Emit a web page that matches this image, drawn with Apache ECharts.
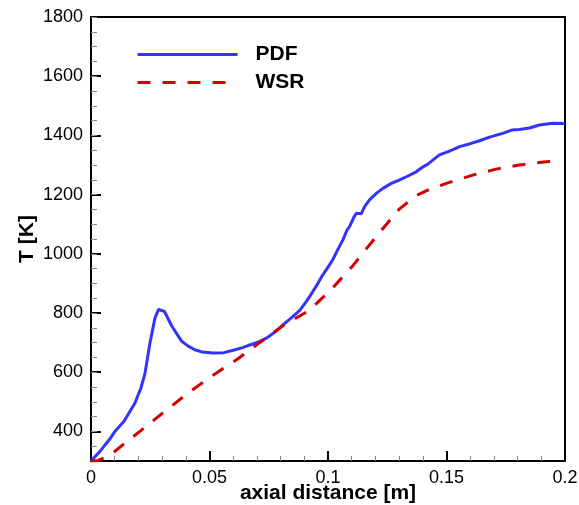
<!DOCTYPE html>
<html>
<head>
<meta charset="utf-8">
<script src="https://cdn.jsdelivr.net/npm/echarts@6/dist/echarts.min.js"></script>
<style>
  html, body { margin: 0; padding: 0; background: #fff; }
  #root { width: 579px; height: 505px; }
</style>
</head>
<body>
<div id="root"></div>
<script>
// axial distance [m] and temperature [K]
const pdfX = [0, 0.004, 0.008, 0.0101, 0.014, 0.0185, 0.021, 0.0228, 0.0249, 0.027, 0.0285, 0.029, 0.031, 0.034,
  0.0382, 0.041, 0.0438, 0.047, 0.0515, 0.056, 0.06, 0.064, 0.067, 0.071, 0.074, 0.078, 0.081, 0.085, 0.088,
  0.0905, 0.0923, 0.0958, 0.0975, 0.1, 0.102, 0.1045, 0.1063, 0.108, 0.1091, 0.111, 0.112, 0.114, 0.1155,
  0.1175, 0.1205, 0.1232, 0.1265, 0.13, 0.1335, 0.1372, 0.14, 0.1421, 0.147, 0.151, 0.1555, 0.16, 0.1639,
  0.1685, 0.1737, 0.1775, 0.1807, 0.185, 0.1892, 0.1948, 0.2];
const pdfT = [300, 335, 375, 400, 435, 495, 545, 597, 700, 783, 812, 818, 805, 757,
  705, 688, 676, 668, 665, 666, 674, 683, 692, 703, 715, 738, 760, 787, 808,
  835, 856, 901, 925, 955, 980, 1020, 1047, 1080, 1092, 1125, 1137, 1135, 1160,
  1182, 1205, 1221, 1237, 1249, 1262, 1277, 1293, 1303, 1334, 1346, 1362, 1372, 1382,
  1395, 1407, 1418, 1420, 1425, 1435, 1441, 1440];

const wsrX = [0, 0.003, 0.006, 0.0101, 0.013, 0.0206, 0.0312, 0.041, 0.0515, 0.0614, 0.0712, 0.081, 0.0923,
  0.102, 0.1105, 0.1175, 0.1239, 0.1302, 0.1372, 0.1421, 0.1499, 0.1611, 0.1709, 0.1807, 0.192, 0.197];
const wsrT = [300, 302, 312, 333, 352, 400, 468, 530, 590, 642, 700, 757, 810,
  885, 960, 1030, 1092, 1152, 1197, 1215, 1238, 1266, 1286, 1300, 1311, 1313];

const xTicks = ['0', '0.05', '0.1', '0.15', '0.2'];
const yTicks = [400, 600, 800, 1000, 1200, 1400, 1600, 1800];

const font = 'Liberation Sans, Arial, Helvetica, sans-serif';

const chart = echarts.init(document.getElementById('root'));
chart.setOption({
  animation: false,
  backgroundColor: '#fff',
  grid: {
    left: 91, right: 14, top: 17, bottom: 44,
    outerBoundsMode: 'none',
    containLabel: false,
    show: true, borderColor: '#000', borderWidth: 2, backgroundColor: 'transparent'
  },
  legend: {
    orient: 'vertical',
    left: 131,
    top: 39,
    itemWidth: 100,
    itemHeight: 14,
    itemGap: 7,
    itemStyle: { opacity: 0 },
    lineStyle: { width: 3 },
    textStyle: { fontFamily: font, fontSize: 21, fontWeight: 'bold', color: '#000', padding: [0, 0, 0, 13] },
    data: ['PDF', 'WSR']
  },
  xAxis: {
    type: 'value',
    min: 0, max: 0.2, interval: 0.05,
    name: 'axial distance [m]',
    nameLocation: 'middle',
    nameGap: 22,
    nameMoveOverlap: false,
    nameTextStyle: { fontFamily: font, fontSize: 21, fontWeight: 'bold', color: '#000' },
    axisLine: { show: true, lineStyle: { color: '#000', width: 2 } },
    axisTick: { show: true, inside: true, length: 10, lineStyle: { color: '#000', width: 2 } },
    minorTick: { show: true, splitNumber: 5, length: 5, lineStyle: { color: '#888', width: 1 } },
    axisLabel: {
      margin: 8, fontFamily: font, fontSize: 18, color: '#000',
      formatter: (v) => xTicks[Math.round(v / 0.05)]
    },
    splitLine: { show: false },
    minorSplitLine: { show: false }
  },
  yAxis: [
    {
      type: 'value',
      min: 300, max: 1800, splitNumber: 7,
      name: 'T [K]',
      nameLocation: 'middle',
      nameGap: 53,
      nameMoveOverlap: false,
      nameTextStyle: { fontFamily: font, fontSize: 21, fontWeight: 'bold', color: '#000' },
      axisLine: { show: true, lineStyle: { color: '#000', width: 2 } },
      axisTick: { show: true, inside: true, length: 10, lineStyle: { color: '#000', width: 2 } },
      axisLabel: {
        margin: 8, fontFamily: font, fontSize: 18, color: '#000',
        formatter: (v) => (yTicks.indexOf(v) >= 0 ? String(v) : '')
      },
      splitLine: { show: false }
    },
    {
      // short grey ticks every 50 K
      type: 'value',
      position: 'left',
      min: 300, max: 1800, interval: 50,
      axisLine: { show: false },
      axisTick: { show: true, inside: true, length: 6, lineStyle: { color: '#888', width: 1 } },
      axisLabel: { show: false },
      splitLine: { show: false }
    }
  ],
  series: [
    {
      name: 'PDF',
      type: 'line',
      symbol: 'none',
      lineStyle: { color: '#3333ff', width: 3 },
      itemStyle: { color: '#3333ff' },
      data: pdfX.map((x, i) => [x, pdfT[i]])
    },
    {
      name: 'WSR',
      type: 'line',
      symbol: 'none',
      lineStyle: { color: '#d40000', width: 3, type: [13, 12] },
      itemStyle: { color: '#d40000' },
      data: wsrX.map((x, i) => [x, wsrT[i]])
    }
  ]
});
</script>
</body>
</html>
